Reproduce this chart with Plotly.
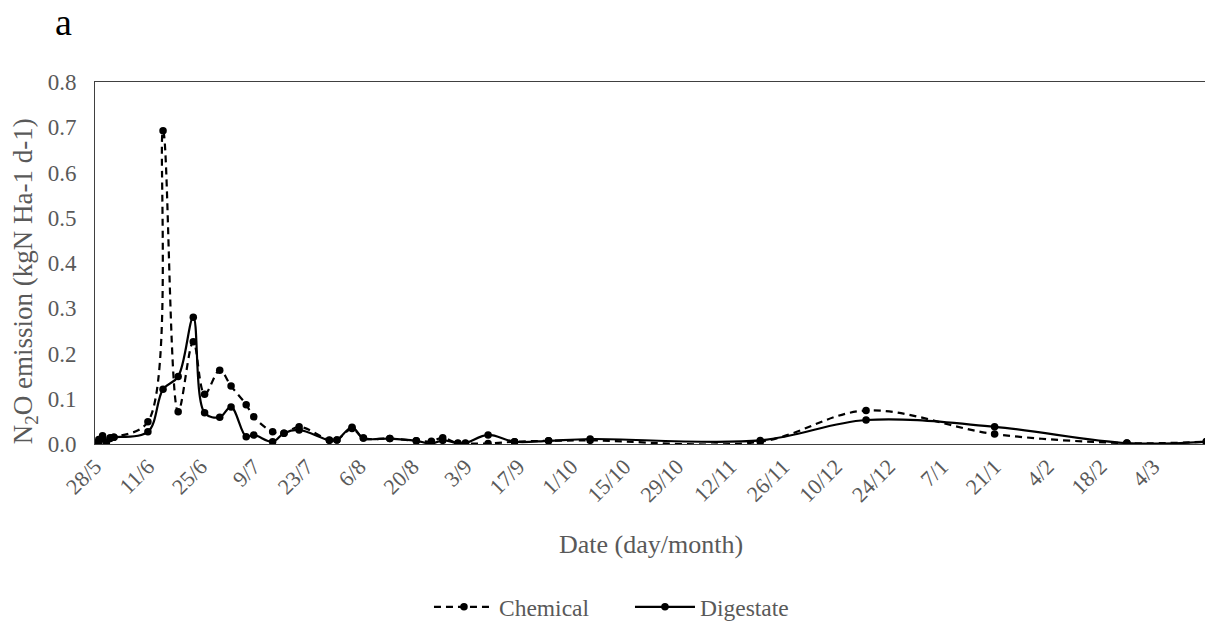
import plotly.graph_objects as go
import pandas as pd

# Sampling dates (day/month), season 2018-2019
dates = ["2018-05-28", "2018-05-29", "2018-05-30", "2018-05-31", "2018-06-01", "2018-06-02",
         "2018-06-11", "2018-06-15", "2018-06-19", "2018-06-23", "2018-06-26", "2018-06-30",
         "2018-07-03", "2018-07-07", "2018-07-09", "2018-07-14", "2018-07-17", "2018-07-21",
         "2018-07-29", "2018-07-31", "2018-08-04", "2018-08-07", "2018-08-14", "2018-08-21",
         "2018-08-25", "2018-08-28", "2018-09-01", "2018-09-03", "2018-09-09", "2018-09-16",
         "2018-09-25", "2018-10-06", "2018-11-20", "2018-12-18", "2019-01-21", "2019-02-25",
         "2019-03-18"]

chemical = [0.002, 0.010, 0.018, 0.003, 0.012, 0.015,
            0.049, 0.692, 0.071, 0.226, 0.110, 0.163,
            0.128, 0.087, 0.060, 0.027, 0.024, 0.038,
            0.009, 0.009, 0.034, 0.013, 0.012, 0.007,
            0.006, 0.014, 0.001, 0.001, 0.001, 0.005,
            0.007, 0.008, 0.005, 0.074, 0.022, 0.002,
            0.005]

digestate = [0.002, 0.005, 0.012, 0.004, 0.014, 0.015,
             0.027, 0.121, 0.149, 0.280, 0.069, 0.059,
             0.082, 0.016, 0.020, 0.005, 0.024, 0.031,
             0.008, 0.009, 0.037, 0.013, 0.012, 0.007,
             0.001, 0.008, 0.002, 0.002, 0.020, 0.005,
             0.007, 0.011, 0.008, 0.053, 0.038, 0.002,
             0.005]

tick_dates = pd.date_range("2018-05-28", "2019-03-04", freq="14D")
tick_labels = [f"{d.day}/{d.month}" for d in tick_dates]

y_ticks = [0.0, 0.1, 0.2, 0.3, 0.4, 0.5, 0.6, 0.7, 0.8]

GRAY = "#595959"
FONT = "Times New Roman, Liberation Serif, DejaVu Serif, serif"

fig = go.Figure()
fig.add_trace(go.Scatter(
    x=dates, y=chemical, name="Chemical", mode="lines+markers",
    line=dict(color="black", width=2.2, dash="7px,5px", shape="spline", smoothing=1),
    marker=dict(color="black", size=7.5),
))
fig.add_trace(go.Scatter(
    x=dates, y=digestate, name="Digestate", mode="lines+markers",
    line=dict(color="black", width=2.2, shape="spline", smoothing=1),
    marker=dict(color="black", size=7.5),
))

fig.update_layout(
    width=1205, height=621,
    margin=dict(l=95, r=0, t=82, b=177, autoexpand=False),
    paper_bgcolor="white", plot_bgcolor="white",
    font=dict(family=FONT, color=GRAY, size=22),
    showlegend=True,
    legend=dict(orientation="h", xref="container", yref="container",
                x=0.356, xanchor="left", y=0.0225, yanchor="middle",
                font=dict(size=23.5, color=GRAY, family=FONT), itemwidth=60,
                entrywidth=126, entrywidthmode="pixels"),
    xaxis=dict(
        range=["2018-05-28", "2019-03-17 16:00"],
        tickmode="array", tickvals=list(tick_dates), ticktext=tick_labels,
        tickangle=-45, showgrid=False, zeroline=False, automargin=False,
        showline=True, linecolor="#404040", linewidth=1, mirror=True,
        ticks="", tickfont=dict(size=22, color=GRAY, family=FONT),
    ),
    yaxis=dict(
        range=[0, 0.8], tickmode="array", tickvals=y_ticks,
        tickformat=".1f", showgrid=False, zeroline=False, automargin=False,
        showline=True, linecolor="#404040", linewidth=1, mirror=True,
        ticks="outside", ticklen=13, tickcolor="rgba(0,0,0,0)",
        tickfont=dict(size=23, color=GRAY, family=FONT),
    ),
)

# Axis titles
fig.add_annotation(text="Date (day/month)", xref="paper", yref="paper", x=0.501, y=-0.279,
                   xanchor="center", yanchor="middle", showarrow=False,
                   font=dict(size=26, color=GRAY, family=FONT))
fig.add_annotation(text="N<sub>2</sub>O emission (kgN Ha-1 d-1)", xref="paper", yref="paper",
                   x=-0.063, y=0.45, xanchor="center", yanchor="middle", textangle=-90,
                   showarrow=False, font=dict(size=27, color=GRAY, family=FONT))

fig.add_annotation(text="a", xref="paper", yref="paper", x=-0.028, y=1.165,
                   xanchor="center", yanchor="middle", showarrow=False,
                   font=dict(size=38, color="black", family=FONT))

fig.write_html("out.html")
